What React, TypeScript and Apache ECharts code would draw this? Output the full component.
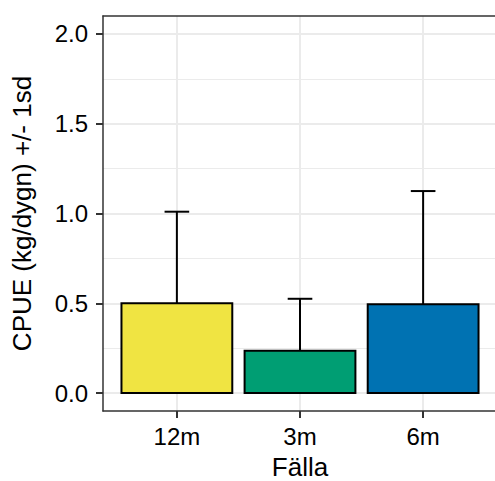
import React, { useEffect, useRef } from "react";
import * as echarts from "echarts";

const categories = ["12m", "3m", "6m"];
const means = [0.5, 0.235, 0.495];
const sds = [0.51, 0.29, 0.63];
const yMajorTicks = [0, 0.5, 1.0, 1.5, 2.0];
const yMinorTicks = [0.25, 0.75, 1.25, 1.75];
const xPositions = [1, 2, 3];

const barColors = ["#F0E442", "#009E73", "#0072B2"];
const FONT = "Liberation Sans, Arial, Helvetica, sans-serif";
const BORDER = { color: "#333333", width: 1.5 };

export default function App() {
  const ref = useRef<HTMLDivElement>(null);
  useEffect(() => {
    if (!ref.current) return;
    const chart = echarts.init(ref.current, null, { renderer: "svg" });
    const barData = categories.map((c, i) => [xPositions[i], means[i]]);
    const errData = categories.map((c, i) => [xPositions[i], means[i], means[i] + sds[i]]);
    chart.setOption({
      animation: false,
      backgroundColor: "#ffffff",
      textStyle: { fontFamily: FONT },
      grid: {
        left: 103,
        top: 16,
        width: 394,
        height: 395,
        outerBoundsMode: "none",
        containLabel: false,
        show: false,
      },
      xAxis: [
        {
          type: "value",
          position: "bottom",
          min: 0.4,
          max: 3.6,
          name: "Fälla",
          nameLocation: "middle",
          nameGap: 43,
          nameTextStyle: { fontSize: 26, color: "#000", fontFamily: FONT },
          axisLine: { show: true, onZero: false, lineStyle: BORDER },
          axisTick: {
            show: true,
            length: 7,
            customValues: xPositions,
            lineStyle: { color: "#333333", width: 2 },
          },
          axisLabel: {
            customValues: xPositions,
            formatter: (v: number) => categories[Math.round(v) - 1] ?? "",
            fontSize: 24,
            color: "#000",
            margin: 13,
            fontFamily: FONT,
          },
          splitLine: { show: true, lineStyle: { color: "#EBEBEB", width: 2 } },
        },
        {
          type: "value",
          position: "top",
          min: 0.4,
          max: 3.6,
          axisLine: { show: true, onZero: false, lineStyle: BORDER },
          axisTick: { show: false },
          axisLabel: { show: false },
          splitLine: { show: false },
        },
      ],
      yAxis: [
        {
          type: "value",
          min: -0.1,
          max: 2.1,
          name: "CPUE (kg/dygn) +/- 1sd",
          nameLocation: "middle",
          nameGap: 68,
          nameTextStyle: { fontSize: 26, color: "#000", fontFamily: FONT },
          axisLine: { show: true, onZero: false, lineStyle: BORDER },
          axisTick: {
            show: true,
            length: 7,
            customValues: yMajorTicks,
            lineStyle: { color: "#333333", width: 2 },
          },
          axisLabel: {
            customValues: yMajorTicks,
            formatter: (v: number) => v.toFixed(1),
            fontSize: 24,
            color: "#000",
            margin: 15,
            fontFamily: FONT,
          },
          splitLine: { show: true, lineStyle: { color: "#EBEBEB", width: 2 } },
        },
        {
          type: "value",
          min: -0.1,
          max: 2.1,
          position: "left",
          axisLine: { show: false },
          axisTick: { show: false, customValues: yMinorTicks },
          axisLabel: { show: false, customValues: yMinorTicks },
          splitLine: { show: true, lineStyle: { color: "#EBEBEB", width: 1 } },
        },
      ],
      series: [
        {
          type: "custom",
          name: "err",
          xAxisIndex: 0,
          yAxisIndex: 0,
          data: errData,
          encode: { x: 0, y: [1, 2] },
          z: 2,
          renderItem: (params: any, api: any) => {
            const x = api.value(0);
            const lo = api.value(1);
            const hi = api.value(2);
            const pLo = api.coord([x, lo]);
            const pHi = api.coord([x, hi]);
            const half = api.size([0.1, 0])[0];
            return {
              type: "group",
              children: [
                {
                  type: "line",
                  shape: { x1: pLo[0], y1: pLo[1], x2: pHi[0], y2: pHi[1] },
                  style: { stroke: "#000", lineWidth: 2 },
                },
                {
                  type: "line",
                  shape: { x1: pHi[0] - half, y1: pHi[1], x2: pHi[0] + half, y2: pHi[1] },
                  style: { stroke: "#000", lineWidth: 2 },
                },
              ],
            };
          },
        },
        {
          type: "custom",
          name: "bars",
          xAxisIndex: 0,
          yAxisIndex: 0,
          data: barData,
          encode: { x: 0, y: 1 },
          z: 3,
          renderItem: (params: any, api: any) => {
            const x = api.value(0);
            const v = api.value(1);
            const p0 = api.coord([x, 0]);
            const p1 = api.coord([x, v]);
            const w = api.size([0.9, 0])[0];
            return {
              type: "rect",
              shape: { x: p0[0] - w / 2, y: p1[1], width: w, height: p0[1] - p1[1] },
              style: { fill: barColors[params.dataIndex], stroke: "#000", lineWidth: 2 },
            };
          },
        },
      ],
    });
    return () => chart.dispose();
  }, []);
  return (
    <div
      ref={ref}
      style={{ position: "fixed", left: 0, top: 0, width: 495, height: 481 }}
    />
  );
}
